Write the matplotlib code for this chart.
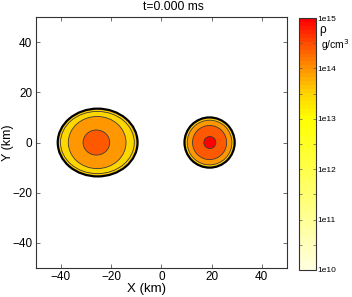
"""Density snapshot of a binary neutron star at t=0: two stars in the X-Y plane."""

import matplotlib

matplotlib.use("Agg")
import matplotlib.pyplot as plt
from matplotlib.colors import LinearSegmentedColormap, Normalize
from matplotlib.patches import Ellipse
from matplotlib.cm import ScalarMappable

plt.rcParams["font.family"] = ["Liberation Sans", "DejaVu Sans"]

# --- Data --------------------------------------------------------------------
# Left (heavier, less compact) star: nested density contours, outermost first.
STAR1_X = [-25.4, -25.5, -25.6, -25.9]
STAR1_Y = [0.0, 0.0, 0.0, 0.0]
STAR1_AX = [15.9, 14.7, 11.5, 5.3]  # semi-axis along X (km)
STAR1_AY = [13.5, 12.4, 10.4, 5.0]  # semi-axis along Y (km)
STAR1_LOGRHO = [13.52, 13.46, 13.95, 14.45]

# Right (compact) star.
STAR2_X = [19.2, 19.2, 19.2, 19.3]
STAR2_Y = [0.0, 0.0, 0.0, 0.0]
STAR2_R = [10.0, 8.9, 6.8, 2.4]
STAR2_LOGRHO = [13.52, 13.95, 14.45, 14.95]

TITLE = "t=0.000 ms"
TICKS = [-40, -20, 0, 20, 40]
CBAR_TICKS = [10, 11, 12, 13, 14, 15]
CBAR_LABELS = ["1e10", "1e11", "1e12", "1e13", "1e14", "1e15"]
CBAR_MINOR = [10.5, 11.5, 12.5, 13.5, 14.5]
LOG_RANGE = (10, 15)

CMAP = LinearSegmentedColormap.from_list(
    "rho",
    [
        (0.0, (1.0, 1.0, 0.87)),
        (0.6, (1.0, 1.0, 0.0)),
        (0.7, (1.0, 0.84, 0.0)),
        (0.8, (1.0, 0.58, 0.0)),
        (0.9, (1.0, 0.32, 0.0)),
        (1.0, (1.0, 0.0, 0.0)),
    ],
    N=64,
)
NORM = Normalize(*LOG_RANGE)


def draw_star(ax, xs, ys, ax_x, ax_y, logrho):
    for i, (x, y, a, b, lr) in enumerate(zip(xs, ys, ax_x, ax_y, logrho)):
        outer = i == 0
        ax.add_patch(
            Ellipse(
                (x, y),
                2 * a,
                2 * b,
                facecolor=CMAP(NORM(lr)),
                edgecolor="black" if outer else "#3a3a3a",
                linewidth=1.6 if outer else 0.6,
                zorder=2 + i,
            )
        )


def main():
    fig = plt.figure(figsize=(3.52, 2.97), dpi=100)
    ax = fig.add_axes([0.102, 0.0976, 0.713, 0.845])

    draw_star(ax, STAR1_X, STAR1_Y, STAR1_AX, STAR1_AY, STAR1_LOGRHO)
    draw_star(ax, STAR2_X, STAR2_Y, STAR2_R, STAR2_R, STAR2_LOGRHO)

    ax.set_xlim(-50, 50)
    ax.set_ylim(-50, 50)
    ax.set_xticks(TICKS)
    ax.set_yticks(TICKS)
    ax.tick_params(direction="in", top=True, right=True, labelsize=8.5,
                   length=3, width=0.6, color="#555555", pad=2.5)
    for sp in ax.spines.values():
        sp.set_linewidth(0.8)
        sp.set_color("#333333")
    fig.text(146.5 / 352, 1 - 289 / 297, "X (km)", fontsize=9.5,
             ha="center", va="center")
    fig.text(8 / 352, 1 - 142.5 / 297, "Y (km)", fontsize=9,
             ha="center", va="center", rotation=90)
    fig.text(173 / 352, 1 - 7 / 297, TITLE, fontsize=8.7,
             ha="center", va="center")

    cax = fig.add_axes([0.849, 0.091, 0.048, 0.848])
    sm = ScalarMappable(norm=NORM, cmap=CMAP)
    cb = fig.colorbar(sm, cax=cax)
    cb.set_ticks(CBAR_TICKS)
    cb.set_ticklabels(CBAR_LABELS)
    cax.set_yticks(CBAR_MINOR, minor=True)
    cax.tick_params(which="both", direction="in", left=True, right=True,
                    length=2, width=0.5, color="#555555", labelsize=6, pad=1)
    cb.outline.set_linewidth(0.8)
    cb.outline.set_edgecolor("#333333")
    fig.text(0.908, 0.89, "ρ", fontsize=8.5)
    fig.text(0.912, 0.835, "g/cm$^3$", fontsize=7.5)

    fig.savefig("out.png", dpi=100)


if __name__ == "__main__":
    main()
